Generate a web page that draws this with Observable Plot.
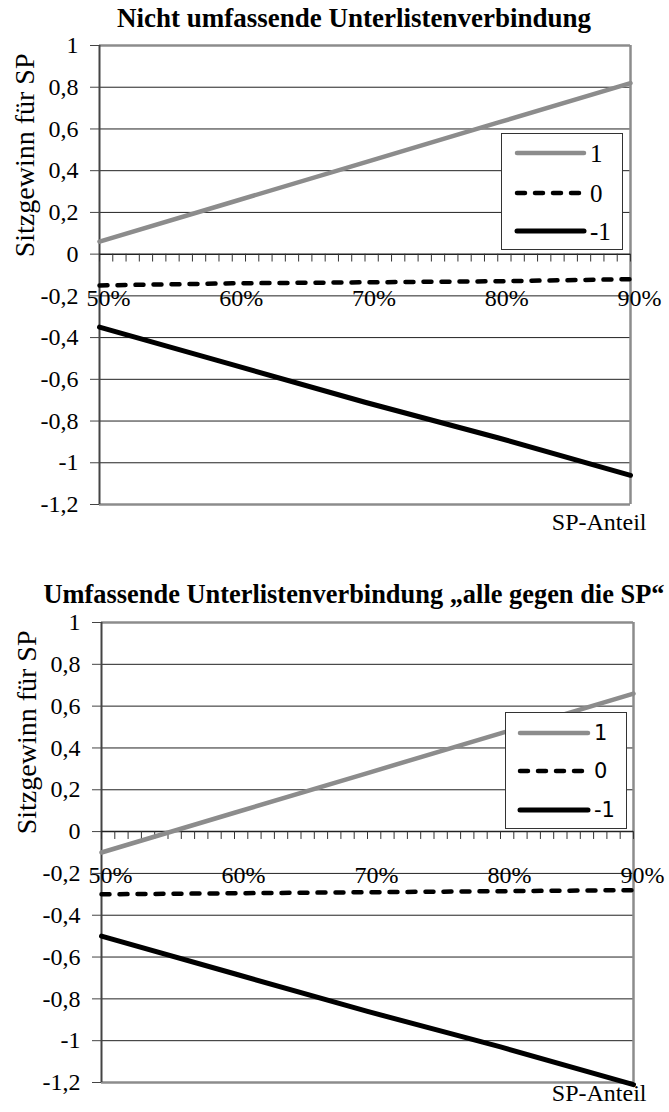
<!DOCTYPE html>
<html><head><meta charset="utf-8">
<script src="https://cdn.jsdelivr.net/npm/d3@7"></script>
<script src="https://cdn.jsdelivr.net/npm/@observablehq/plot@0.6"></script>
<style>
body{margin:0;background:#fff;}
#root{position:relative;width:669px;height:1112px;overflow:hidden;font-family:"Liberation Serif","Times New Roman",serif;color:#000;}
.title{position:absolute;font-weight:bold;white-space:nowrap;text-align:center;width:669px;}
.chart{position:absolute;left:0;}
.legend{position:absolute;background:#fff;border:1px solid #333;box-sizing:border-box;}
</style></head><body><div id="root"></div>
<script>
// ---- data ----
const xPct = [0.5, 0.6, 0.7, 0.8, 0.9];
const seriesNames = ["1", "0", "-1"];
const topTitle = "Nicht umfassende Unterlistenverbindung";
const botTitle = "Umfassende Unterlistenverbindung \u201ealle gegen die SP\u201c";
const yLabel = "Sitzgewinn für SP";
const xLabel = "SP-Anteil";
// top chart
const top_s1  = [0.06, 0.25, 0.44, 0.63, 0.82];
const top_s0  = [-0.15, -0.14, -0.135, -0.13, -0.12];
const top_sm1 = [-0.35, -0.53, -0.71, -0.88, -1.06];
// bottom chart
const bot_s1  = [-0.10, 0.09, 0.28, 0.47, 0.66];
const bot_s0  = [-0.30, -0.295, -0.29, -0.285, -0.28];
const bot_sm1 = [-0.50, -0.68, -0.86, -1.03, -1.21];
// ticks
const yTicks = [1, 0.8, 0.6, 0.4, 0.2, 0, -0.2, -0.4, -0.6, -0.8, -1, -1.2];
const gridY  = [0.8, 0.6, 0.4, 0.2, -0.2, -0.4, -0.6, -0.8, -1];
const xTickLabels = [0.5, 0.6, 0.7, 0.8, 0.9];
const minorX = d3.range(50, 91).map(d => d / 100);

const SERIF = '"Liberation Serif", "Times New Roman", serif';
const styles = [
  {stroke: "#8c8c8c", strokeWidth: 4.5, dash: null},
  {stroke: "#000", strokeWidth: 4.5, dash: "8,10"},
  {stroke: "#000", strokeWidth: 5, dash: null}
];

const root = document.getElementById("root");
const tickShape = {draw(ctx, l) { ctx.moveTo(0, 0); ctx.lineTo(0, -l); }};

function makeChart(cfg) {
  const series = [cfg.s1, cfg.s0, cfg.sm1];
  const rows = series.map((vals, k) => xPct.map((x, i) => ({x, y: vals[i], s: seriesNames[k]})));
  const plot = Plot.plot({
    width: 669,
    height: cfg.height,
    marginTop: cfg.mt,
    marginBottom: cfg.mb,
    marginLeft: cfg.ml,
    marginRight: cfg.mr,
    style: {fontFamily: SERIF, background: "transparent", color: "#000", overflow: "visible"},
    x: {domain: [0.5, 0.9], axis: null},
    y: {domain: [-1.2, 1], axis: null},
    marks: [
      Plot.ruleY(gridY, {stroke: "#222", strokeWidth: 1}),
      Plot.ruleY([1, -1.2], {stroke: "#8c8c8c", strokeWidth: 2.5}),
      Plot.ruleX([0.9], {stroke: "#8c8c8c", strokeWidth: 2.5}),
      Plot.ruleX([0.5], {stroke: "#444", strokeWidth: 2}),
      Plot.ruleY([0], {stroke: "#222", strokeWidth: 1.5}),
      Plot.vector(minorX, {x: d => d, y: () => 0, length: 7, rotate: 180, anchor: "start", shape: tickShape, stroke: "#333", strokeWidth: 1}),
      Plot.axisY({ticks: yTicks, label: null, tickFormat: d => String(d).replace(".", ","), tickSize: 9, tickPadding: 12, fontSize: 24, fontFamily: SERIF, fontVariant: "normal", stroke: "#444"}),
      Plot.text(xTickLabels, {x: d => d, y: () => 0, text: d => d3.format(".0%")(d), dy: 44, dx: 9, fontSize: 24, fontFamily: SERIF}),
      ...rows.map((r, k) => Plot.line(r, {x: "x", y: "y", stroke: styles[k].stroke, strokeWidth: styles[k].strokeWidth, strokeDasharray: styles[k].dash, strokeLinecap: "round"})),
      Plot.text([yLabel], {frameAnchor: "top-left", rotate: -90, textAnchor: "end", dx: -85, dy: 8, fontSize: 28, fontFamily: SERIF}),
      Plot.text([xLabel], {frameAnchor: "bottom-right", textAnchor: "end", dx: cfg.xlDx, dy: cfg.xlDy, fontSize: 24, fontFamily: SERIF})
    ]
  });
  plot.classList.add("chart");
  plot.style.top = cfg.top + "px";
  root.appendChild(plot);

  const t = document.createElement("div");
  t.className = "title";
  t.textContent = cfg.title;
  Object.assign(t.style, {left: cfg.titleCx - 334.5 + "px", top: cfg.titleY + "px", fontSize: cfg.titleFs + "px", lineHeight: cfg.titleFs + "px"});
  root.appendChild(t);

  // legend
  const L = cfg.legend;
  const lg = document.createElement("div");
  lg.className = "legend";
  Object.assign(lg.style, {left: L.x + "px", top: L.y + "px", width: L.w + "px", height: L.h + "px"});
  const svg = d3.select(lg).append("svg").attr("width", L.w - 2).attr("height", L.h - 2).style("display", "block");
  seriesNames.forEach((name, k) => {
    const yy = L.rows[k];
    svg.append("line").attr("x1", L.sx0).attr("x2", L.sx1).attr("y1", yy).attr("y2", yy)
      .attr("stroke", styles[k].stroke).attr("stroke-width", styles[k].strokeWidth)
      .attr("stroke-dasharray", styles[k].dash).attr("stroke-linecap", "round");
    svg.append("text").attr("x", L.tx).attr("y", yy).attr("dy", "0.35em")
      .style("font-family", L.font).attr("font-size", L.fs).text(name);
  });
  root.appendChild(lg);
}

makeChart({
  title: topTitle, titleCx: 354, titleY: 5, titleFs: 27,
  s1: top_s1, s0: top_s0, sm1: top_sm1,
  top: 0, height: 548, mt: 45, mb: 44, ml: 99, mr: 39, xlDx: 16, xlDy: 25,
  legend: {x: 501, y: 133, w: 122, h: 117, rows: [19, 59, 97], sx0: 15, sx1: 82, tx: 88, fs: 25, font: SERIF}
});
makeChart({
  title: botTitle, titleCx: 354, titleY: 581, titleFs: 26.4,
  s1: bot_s1, s0: bot_s0, sm1: bot_sm1,
  top: 576, height: 536, mt: 46, mb: 30, ml: 101, mr: 36, xlDx: 13, xlDy: 18,
  legend: {x: 505, y: 712, w: 122, h: 117, rows: [20, 58, 97], sx0: 14, sx1: 82, tx: 88, fs: 21, font: '"DejaVu Sans", sans-serif'}
});
</script>
</body></html>
